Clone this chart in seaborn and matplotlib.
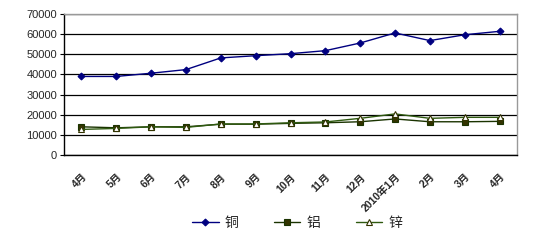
import matplotlib
matplotlib.use("Agg")
import matplotlib.pyplot as plt
import seaborn as sns
import numpy as np
import pandas as pd

months = ["4月", "5月", "6月", "7月", "8月", "9月", "10月", "11月", "12月",
          "2010年1月", "2月", "3月", "4月"]
copper = [39000, 39000, 40600, 42400, 48200, 49300, 50300, 51800, 55600, 60600, 56800, 59700, 61400]
aluminum = [14000, 13500, 14000, 14000, 15300, 15300, 15700, 16000, 16500, 17900, 16500, 16500, 16700]
zinc = [12700, 13200, 14000, 13700, 15400, 15400, 16000, 16400, 18200, 20400, 18200, 18700, 18700]
series_names = ["铜", "铝", "锌"]
y_ticks = [0, 10000, 20000, 30000, 40000, 50000, 60000, 70000]

sns.set_theme(style="white")
plt.rcParams['font.family'] = ['Liberation Sans', 'Noto Sans CJK SC', 'DejaVu Sans']

fig = plt.figure(figsize=(5.55, 2.40), dpi=100)
ax = fig.add_axes([64/555, 1-155/240, (517-64)/555, (155-14)/240])

x = np.arange(len(months))
df = pd.DataFrame({"x": np.tile(x, 3),
                   "value": copper + aluminum + zinc,
                   "series": np.repeat(series_names, len(months))})

styles = {
    "铜": dict(color="#000080", marker="D", ms=3.5, mfc="#000080", mec="#000080"),
    "铝": dict(color="#1a3300", marker="s", ms=4, mfc="#333300", mec="#1a3300"),
    "锌": dict(color="#2f5a10", marker="^", ms=5, mfc="white", mec="#333300"),
}
for name in series_names:
    st = styles[name]
    sub = df[df.series == name]
    sns.lineplot(data=sub, x="x", y="value", ax=ax, color=st["color"], lw=1,
                 marker=st["marker"], markersize=st["ms"], markerfacecolor=st["mfc"],
                 markeredgecolor=st["mec"], markeredgewidth=0.8, label=name)

ax.set_xlim(-0.5, len(months) - 0.5)
ax.set_ylim(0, 70000)
ax.set_yticks(y_ticks)
ax.set_yticklabels([str(v) for v in y_ticks], fontsize=8)
ax.yaxis.grid(True, color="black", lw=0.9)
ax.set_axisbelow(True)

ax.set_xticks(x)
ax.set_xticklabels(months, rotation=45, ha="right", rotation_mode="anchor",
                   fontsize=7.5, fontweight="bold")
ax.set_xticks(np.arange(-0.5, len(months)), minor=True)
ax.tick_params(axis="x", which="major", length=0, pad=12)
ax.tick_params(axis="x", which="minor", length=4, width=0.8, color="black", direction="out")
ax.tick_params(axis="y", length=3, width=0.8, color="black", direction="out", left=True, pad=2)
ax.set_xlabel("")
ax.set_ylabel("")

for s in ["top", "right"]:
    ax.spines[s].set_color("#999999")
    ax.spines[s].set_linewidth(1)
for s in ["left", "bottom"]:
    ax.spines[s].set_color("black")
    ax.spines[s].set_linewidth(1)

leg = ax.legend(loc="center", bbox_to_anchor=(297/555, 1-223/240), bbox_transform=fig.transFigure,
                ncol=3, frameon=False, fontsize=10, handlelength=1.9, columnspacing=2.6,
                handletextpad=0.4)

fig.savefig("out.png", dpi=100)
